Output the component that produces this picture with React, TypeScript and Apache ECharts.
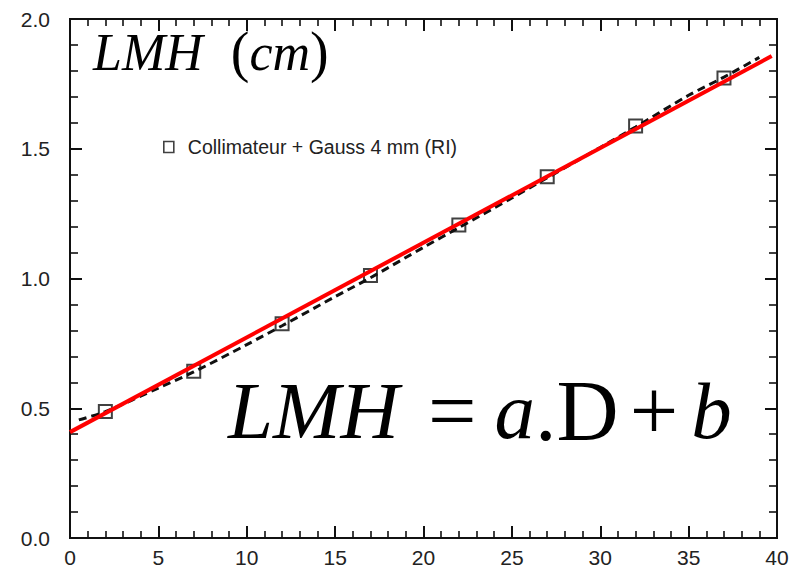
import React, { useEffect, useRef } from "react";
import * as echarts from "echarts";

const seriesName = "Collimateur + Gauss 4 mm (RI)";
const distances = [2, 7, 12, 17, 22, 27, 32, 37];
const lmhValues = [0.487, 0.643, 0.826, 1.012, 1.206, 1.392, 1.588, 1.773];
const dashedX = [0.5, 2, 5, 7, 10, 12, 15, 17, 20, 22, 25, 27, 30, 32, 35, 37, 39];
const dashedY = [0.455, 0.487, 0.578, 0.64, 0.745, 0.818, 0.93, 1.003, 1.12, 1.196, 1.31, 1.388, 1.505, 1.584, 1.706, 1.776, 1.852];
const fitX = [0, 39.7];
const fitY = [0.408, 1.857];
const xRange = [0, 40];
const yRange = [0, 2];
const xMajor = 5;
const xMinor = 1;
const yMajor = 0.5;
const yMinor = 0.1;

const W = 789, H = 569;
const G = { left: 70, top: 19, right: 12, bottom: 31 };

export default function App() {
  const ref = useRef<HTMLDivElement>(null);
  useEffect(() => {
    if (!ref.current) return;
    const chart = echarts.init(ref.current, null, { renderer: "svg" });
    const axisLine = { show: true, onZero: false, lineStyle: { color: "#111", width: 2 } };
    const tick = (len: number, w: number) => ({ show: true, length: len, lineStyle: { color: "#111", width: w } });
    const labelStyle = { fontFamily: "Liberation Sans", fontSize: 21, color: "#222" };
    const hiddenX = (gi: number) => ({ type: "value", gridIndex: gi, min: xRange[0], max: xRange[1], show: false, axisLine: { onZero: false } });
    const hiddenY = (gi: number) => ({ type: "value", gridIndex: gi, min: yRange[0], max: yRange[1], show: false, axisLine: { onZero: false } });
    const tx = (gi: number, pos: string, interval: number, len: number, w: number) => ({
      type: "value", gridIndex: gi, min: xRange[0], max: xRange[1], interval, position: pos,
      axisLine, axisTick: tick(len, w), splitLine: { show: false }, axisLabel: { show: false },
    });
    const ty = (gi: number, pos: string, interval: number, len: number, w: number) => ({
      type: "value", gridIndex: gi, min: yRange[0], max: yRange[1], interval, position: pos,
      axisLine, axisTick: tick(len, w), splitLine: { show: false }, axisLabel: { show: false },
    });
    const gridBase = { containLabel: false, outerBoundsMode: "none" };
    const option: any = {
      animation: false,
      backgroundColor: "#fff",
      grid: [
        // 0: main plot
        { ...gridBase, ...G },
        // 1: strip left of the plot -> its right axis sits on the left frame, ticks pointing into the plot
        { ...gridBase, left: 0, right: W - G.left, top: G.top, bottom: G.bottom },
        // 2: strip right of the plot -> its left axis sits on the right frame
        { ...gridBase, left: W - G.right, right: 0, top: G.top, bottom: G.bottom },
        // 3: strip above the plot -> its bottom axis sits on the top frame
        { ...gridBase, left: G.left, right: G.right, top: 0, bottom: H - G.top },
        // 4: strip below the plot -> its top axis sits on the bottom frame
        { ...gridBase, left: G.left, right: G.right, top: H - G.bottom, bottom: 0 },
      ],
      xAxis: [
        {
          type: "value", gridIndex: 0, min: xRange[0], max: xRange[1], interval: xMajor, position: "bottom",
          axisLine, axisTick: { show: false }, splitLine: { show: false },
          axisLabel: { ...labelStyle, lineHeight: 20, margin: 9, showMaxLabel: true },
        },
        hiddenX(1),
        hiddenX(2),
        tx(3, "bottom", xMajor, 12, 2),
        tx(3, "bottom", xMinor, 7, 1.6),
        tx(4, "top", xMajor, 12, 2),
        tx(4, "top", xMinor, 7, 1.6),
      ],
      yAxis: [
        {
          type: "value", gridIndex: 0, min: yRange[0], max: yRange[1], interval: yMajor, position: "left",
          axisLine, axisTick: { show: false }, splitLine: { show: false },
          axisLabel: { ...labelStyle, margin: 20, formatter: (v: number) => v.toFixed(1) },
        },
        ty(1, "right", yMajor, 12, 2),
        ty(1, "right", yMinor, 8, 1.6),
        ty(2, "left", yMajor, 12, 2),
        ty(2, "left", yMinor, 8, 1.6),
        hiddenY(3),
        hiddenY(4),
      ],
      legend: {
        show: true,
        data: [{ name: seriesName, icon: "rect" }],
        left: 158, top: 132,
        itemWidth: 10, itemHeight: 11, itemGap: 10,
        textStyle: { fontFamily: "Liberation Sans", fontSize: 19.5, color: "#222", padding: [0, 0, 0, 9] },
        itemStyle: { color: "#fff", borderColor: "#111", borderWidth: 1.6 },
      },
      series: [
        {
          name: "dashed fit", type: "line", xAxisIndex: 0, yAxisIndex: 0,
          data: dashedX.map((x, i) => [x, dashedY[i]]), smooth: 0.3, showSymbol: false,
          lineStyle: { color: "#111", width: 3, type: [8, 5] }, z: 2,
        },
        {
          name: seriesName, type: "scatter", xAxisIndex: 0, yAxisIndex: 0,
          data: distances.map((x, i) => [x, lmhValues[i]]), symbol: "rect", symbolSize: 13,
          itemStyle: { color: "rgba(255,255,255,0)", borderColor: "#111", borderWidth: 2 }, z: 3,
        },
        {
          name: "linear fit", type: "line", xAxisIndex: 0, yAxisIndex: 0,
          data: fitX.map((x, i) => [x, fitY[i]]), showSymbol: false,
          lineStyle: { color: "#ff0000", width: 4 }, z: 4,
        },
      ],
      graphic: [
        {
          type: "text", left: 93, top: 24, z: 10,
          style: {
            text: "{i|LMH}{r|  (}{i|cm}{r|)}",
            rich: {
              i: { fontFamily: "Liberation Serif", fontStyle: "italic", fontSize: 52, fill: "#000" },
              r: { fontFamily: "Liberation Serif", fontSize: 56, fill: "#000" },
            },
          },
        },
        {
          type: "text", left: 228, top: 368, z: 10,
          style: {
            text: "{i|LMH}{g1| }{r|=}{g2| }{i|a}{r|.D}{g3| }{r|+}{g4| }{i|b}",
            rich: {
              i: { fontFamily: "Liberation Serif", fontStyle: "italic", fontSize: 81, fill: "#000" },
              r: { fontFamily: "Liberation Serif", fontSize: 86, fill: "#000" },
              g1: { fontFamily: "Liberation Serif", fontSize: 81, width: 29 },
              g2: { fontFamily: "Liberation Serif", fontSize: 81, width: 18 },
              g3: { fontFamily: "Liberation Serif", fontSize: 81, width: 11 },
              g4: { fontFamily: "Liberation Serif", fontSize: 81, width: 13 },
            },
          },
        },
      ],
    };
    chart.setOption(option);
    return () => chart.dispose();
  }, []);
  return (
    <div
      ref={ref}
      style={{ position: "fixed", left: 0, top: 0, width: W, height: H, background: "#fff" }}
    />
  );
}
